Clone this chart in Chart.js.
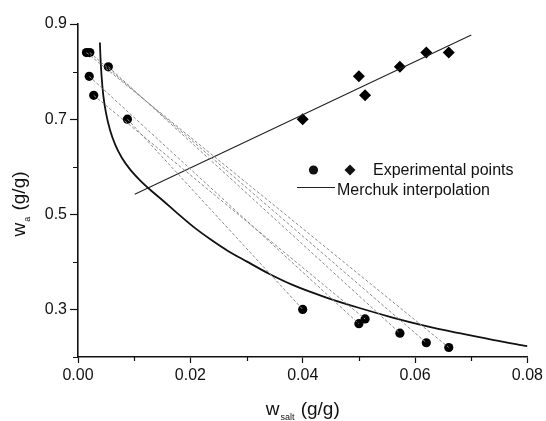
<!DOCTYPE html>
<html>
<head>
<meta charset="utf-8">
<script src="https://cdn.jsdelivr.net/npm/chart.js@4.4.1/dist/chart.umd.min.js"></script>
<style>
  html, body { margin: 0; padding: 0; background: #fff; }
</style>
</head>
<body>
<canvas id="binodalChart" width="546" height="421"></canvas>
<script>
// tie-line ends: top (polymer rich) and bottom (salt rich) phases
let topX = [0.0015, 0.0021, 0.0054, 0.0020, 0.0028, 0.0088];
let topY = [0.84, 0.84, 0.81, 0.79, 0.75, 0.70];
let botX = [0.0660, 0.0620, 0.0573, 0.0500, 0.0511, 0.0400];
let botY = [0.22, 0.23, 0.25, 0.27, 0.28, 0.30];

// second set of experimental points (diamonds)
let diaX = [0.0400, 0.0500, 0.0511, 0.0573, 0.0620, 0.0660];
let diaY = [0.70, 0.79, 0.75, 0.81, 0.84, 0.84];

// straight line through the diamonds
let fitX = [0.0101, 0.0700];
let fitY = [0.542, 0.877];

// Merchuk binodal curve
let curveX = [0.0039, 0.0040, 0.0042, 0.0045, 0.0050, 0.0057, 0.0066, 0.0078, 0.0093, 0.0110, 0.0130,
              0.0152, 0.0177, 0.0205, 0.0235, 0.0267, 0.0300, 0.0340, 0.0383, 0.0442, 0.0501,
              0.0560, 0.0620, 0.0679, 0.0738, 0.0800];
let curveY = [0.861, 0.830, 0.790, 0.750, 0.712, 0.677, 0.647, 0.619, 0.594, 0.572, 0.550,
              0.528, 0.502, 0.474, 0.448, 0.423, 0.401, 0.375, 0.351, 0.325, 0.303,
              0.283, 0.265, 0.250, 0.236, 0.223];

let xTicks = [0, 0.02, 0.04, 0.06, 0.08];
let xMinor = [0.01, 0.03, 0.05, 0.07];
let yTicks = [0.3, 0.5, 0.7, 0.9];
let yMinor = [0.2, 0.4, 0.6, 0.8];

const FONT = "'Liberation Sans', Arial, sans-serif";

function pts(xs, ys) {
    return xs.map((x, i) => ({ x: x, y: ys[i] }));
}

let datasets = [];

// dashed tie lines go underneath everything
topX.forEach((x, i) => {
    datasets.push({
        type: 'line',
        data: [{ x: x, y: topY[i] }, { x: botX[i], y: botY[i] }],
        borderColor: '#8a8a8a',
        borderWidth: 1,
        borderDash: [3, 2],
        pointRadius: 0
    });
});

datasets.push({
    type: 'line',
    data: pts(curveX, curveY),
    borderColor: '#111',
    borderWidth: 1.8,
    pointRadius: 0,
    cubicInterpolationMode: 'monotone'
});

datasets.push({
    type: 'line',
    data: pts(fitX, fitY),
    borderColor: '#222',
    borderWidth: 1.1,
    pointRadius: 0
});

datasets.push({
    type: 'scatter',
    data: pts(topX, topY).concat(pts(botX, botY)),
    pointStyle: 'circle',
    pointRadius: 4.6,
    backgroundColor: '#000',
    borderColor: '#000',
    borderWidth: 0
});

datasets.push({
    type: 'scatter',
    data: pts(diaX, diaY),
    pointStyle: 'rectRot',
    pointRadius: 6,
    backgroundColor: '#000',
    borderColor: '#000',
    borderWidth: 0
});

// minor ticks, axis titles with subscripts, legend
let decor = {
    id: 'decor',
    afterDraw(chart) {
        let ctx = chart.ctx;
        let xs = chart.scales.x, ys = chart.scales.y;
        let area = chart.chartArea;

        ctx.save();
        ctx.strokeStyle = '#111';
        ctx.lineWidth = 1.2;
        ctx.beginPath();
        xMinor.forEach(v => {
            let px = Math.round(xs.getPixelForValue(v)) + 0.5;
            ctx.moveTo(px, area.bottom);
            ctx.lineTo(px, area.bottom + 4);
        });
        yMinor.forEach(v => {
            let py = Math.round(ys.getPixelForValue(v)) + 0.5;
            ctx.moveTo(area.left, py);
            ctx.lineTo(area.left - 5, py);
        });
        ctx.stroke();

        ctx.fillStyle = '#111';
        ctx.textBaseline = 'alphabetic';

        function subTitle(main, sub, rest, cx, cy) {
            ctx.font = '19px ' + FONT;
            let w1 = ctx.measureText(main).width;
            let w3 = ctx.measureText(rest).width;
            ctx.font = '9px ' + FONT;
            let w2 = ctx.measureText(sub).width;
            let x0 = cx - (w1 + w2 + w3 + 2) / 2;
            ctx.font = '19px ' + FONT;
            ctx.textAlign = 'left';
            ctx.fillText(main, x0, cy);
            ctx.fillText(rest, x0 + w1 + w2 + 2, cy);
            ctx.font = '9px ' + FONT;
            ctx.fillText(sub, x0 + w1 + 1, cy + 5);
        }

        subTitle('w', 'salt', ' (g/g)', (area.left + area.right) / 2, 415);

        ctx.save();
        ctx.translate(25, 204);
        ctx.rotate(-Math.PI / 2);
        subTitle('w', 'a', ' (g/g)', 0, 0);
        ctx.restore();

        // legend
        ctx.beginPath();
        ctx.arc(313.5, 170, 4.6, 0, Math.PI * 2);
        ctx.fill();
        ctx.beginPath();
        ctx.moveTo(350, 164.5);
        ctx.lineTo(355.5, 170);
        ctx.lineTo(350, 175.5);
        ctx.lineTo(344.5, 170);
        ctx.closePath();
        ctx.fill();
        ctx.strokeStyle = '#222';
        ctx.lineWidth = 1.1;
        ctx.beginPath();
        ctx.moveTo(297, 187.5);
        ctx.lineTo(335, 187.5);
        ctx.stroke();

        ctx.font = '16px ' + FONT;
        ctx.textAlign = 'left';
        ctx.fillText('Experimental points', 373, 175);
        ctx.fillText('Merchuk interpolation', 337, 195);
        ctx.restore();
    }
};

let ctx = document.getElementById("binodalChart").getContext('2d');

new Chart(ctx, {
    type: 'scatter',
    data: { datasets: datasets },
    options: {
        responsive: false,
        animation: false,
        devicePixelRatio: 1,
        layout: { padding: { left: 0, top: 24, right: 18, bottom: 0 } },
        plugins: {
            legend: { display: false },
            tooltip: { enabled: false }
        },
        elements: { line: { fill: false } },
        scales: {
            x: {
                type: 'linear',
                min: 0,
                max: 0.08,
                afterBuildTicks: s => { s.ticks = xTicks.map(v => ({ value: v })); },
                afterFit: s => { s.height = 64; },
                ticks: {
                    callback: v => v.toFixed(2),
                    color: '#111',
                    font: { family: FONT, size: 16 },
                    padding: 3,
                    maxRotation: 0
                },
                grid: { drawOnChartArea: false, drawTicks: true, tickLength: 6, tickColor: '#111', tickWidth: 1.2 },
                border: { display: true, color: '#111', width: 1.6 }
            },
            y: {
                type: 'linear',
                min: 0.2,
                max: 0.9,
                afterBuildTicks: s => { s.ticks = yTicks.map(v => ({ value: v })); },
                afterFit: s => { s.width = 78; },
                ticks: {
                    callback: v => v.toFixed(1),
                    color: '#111',
                    font: { family: FONT, size: 16 },
                    padding: 3
                },
                grid: { drawOnChartArea: false, drawTicks: true, tickLength: 8, tickColor: '#111', tickWidth: 1.2 },
                border: { display: true, color: '#111', width: 1.6 }
            }
        }
    },
    plugins: [decor]
});
</script>
</body>
</html>
